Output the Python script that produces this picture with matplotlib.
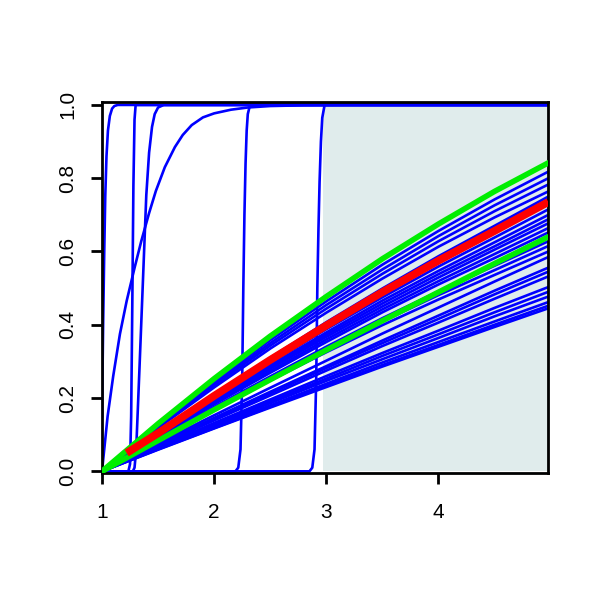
import numpy as np
import matplotlib
matplotlib.use('Agg')
import matplotlib.pyplot as plt

# x positions where the smooth (fan) curves were read
fan_x = [1.0, 1.5, 2.0, 2.5, 3.0, 3.5, 4.0, 4.5, 4.98]

# blue fan curves, values read at fan_x
blue_fan = [
    [0, 0.126, 0.245, 0.358, 0.464, 0.564, 0.656, 0.742, 0.818],
    [0, 0.123, 0.240, 0.350, 0.454, 0.551, 0.642, 0.726, 0.800],
    [0, 0.121, 0.235, 0.343, 0.444, 0.539, 0.628, 0.710, 0.783],
    [0, 0.118, 0.229, 0.335, 0.433, 0.526, 0.613, 0.693, 0.764],
    [0, 0.107, 0.210, 0.310, 0.407, 0.499, 0.587, 0.670, 0.750],
    [0, 0.105, 0.208, 0.306, 0.402, 0.493, 0.580, 0.663, 0.742],
    [0, 0.102, 0.200, 0.295, 0.388, 0.475, 0.559, 0.638, 0.715],
    [0, 0.099, 0.196, 0.289, 0.379, 0.466, 0.547, 0.625, 0.700],
    [0, 0.098, 0.193, 0.284, 0.373, 0.458, 0.538, 0.614, 0.688],
    [0, 0.096, 0.190, 0.280, 0.367, 0.450, 0.529, 0.605, 0.677],
    [0, 0.094, 0.186, 0.274, 0.360, 0.442, 0.519, 0.593, 0.664],
    [0, 0.093, 0.183, 0.269, 0.353, 0.434, 0.510, 0.582, 0.652],
    [0, 0.089, 0.176, 0.259, 0.340, 0.418, 0.491, 0.561, 0.628],
    [0, 0.087, 0.172, 0.254, 0.333, 0.409, 0.481, 0.549, 0.615],
    [0, 0.085, 0.168, 0.248, 0.325, 0.399, 0.469, 0.536, 0.600],
    [0, 0.077, 0.153, 0.228, 0.302, 0.376, 0.447, 0.518, 0.585],
    [0, 0.073, 0.146, 0.217, 0.287, 0.357, 0.425, 0.493, 0.556],
    [0, 0.072, 0.143, 0.213, 0.282, 0.350, 0.416, 0.483, 0.545],
    [0, 0.070, 0.139, 0.207, 0.275, 0.342, 0.406, 0.471, 0.532],
    [0, 0.066, 0.132, 0.196, 0.260, 0.323, 0.384, 0.446, 0.503],
    [0, 0.065, 0.128, 0.191, 0.253, 0.315, 0.374, 0.434, 0.490],
    [0, 0.063, 0.125, 0.186, 0.247, 0.306, 0.364, 0.423, 0.477],
    [0, 0.061, 0.121, 0.180, 0.239, 0.297, 0.353, 0.409, 0.462],
    [0, 0.060, 0.118, 0.176, 0.234, 0.290, 0.345, 0.400, 0.452],
    [0, 0.059, 0.117, 0.174, 0.230, 0.286, 0.340, 0.394, 0.445],
]

green_upper = [0, 0.130, 0.253, 0.369, 0.477, 0.580, 0.675, 0.764, 0.842]
green_lower = [0, 0.084, 0.168, 0.250, 0.331, 0.411, 0.489, 0.567, 0.640]

red_x = [1.22, 1.5, 2.0, 2.5, 3.0, 3.5, 4.0, 4.5, 4.98]
red_y = [0.05, 0.104, 0.206, 0.304, 0.398, 0.489, 0.575, 0.656, 0.735]

# steep blue curves (x, y pairs)
steep_curves = [
    ([1.0, 1.01, 1.02, 1.029, 1.04, 1.053, 1.07, 1.09, 1.11, 1.14, 4.98],
     [0.15, 0.40, 0.60, 0.75, 0.86, 0.93, 0.97, 0.99, 0.997, 1.0, 1.0]),
    ([1.0, 1.02, 1.05, 1.1, 1.16, 1.22, 1.29, 1.35, 1.42, 1.48, 1.56, 1.65,
      1.72, 1.8, 1.9, 2.0, 2.15, 2.3, 2.5, 2.8, 3.2, 4.98],
     [0, 0.06, 0.15, 0.26, 0.375, 0.465, 0.555, 0.628, 0.705, 0.765, 0.83, 0.885,
      0.918, 0.945, 0.966, 0.977, 0.987, 0.993, 0.997, 0.999, 1.0, 1.0]),
    ([1.0, 1.235, 1.25, 1.26, 1.27, 1.28, 1.29, 1.30, 4.98],
     [0, 0, 0.02, 0.15, 0.45, 0.78, 0.96, 1.0, 1.0]),
    ([1.0, 1.275, 1.29, 1.305, 1.334, 1.365, 1.395, 1.42, 1.446, 1.47, 1.50, 1.55, 4.98],
     [0, 0, 0.01, 0.06, 0.28, 0.52, 0.754, 0.87, 0.94, 0.975, 0.993, 1.0, 1.0]),
    ([1.0, 2.19, 2.215, 2.235, 2.25, 2.26, 2.27, 2.28, 2.29, 2.30, 2.32, 4.98],
     [0, 0, 0.01, 0.06, 0.25, 0.50, 0.70, 0.84, 0.93, 0.975, 1.0, 1.0]),
    ([1.0, 2.85, 2.875, 2.895, 2.91, 2.92, 2.93, 2.94, 2.952, 2.964, 2.985, 4.98],
     [0, 0, 0.01, 0.06, 0.25, 0.50, 0.66, 0.79, 0.90, 0.965, 1.0, 1.0]),
]

shade_from = 2.97
x_ticks = [1, 2, 3, 4]
y_ticks = [0.0, 0.2, 0.4, 0.6, 0.8, 1.0]

plt.rcParams['font.family'] = ['Liberation Sans', 'DejaVu Sans']

fig = plt.figure(figsize=(6, 6), dpi=100)
ax = fig.add_axes([0.17, 0.212, 0.743, 0.618])

ax.fill_between([shade_from, 4.98], 0, 1, color='#e0ecec', lw=0, zorder=1)

for xs, ys in steep_curves:
    ax.plot(xs, ys, color='#0000ff', lw=1.9, zorder=2)
for ys in blue_fan:
    ax.plot(fan_x, ys, color='#0000ff', lw=1.9, zorder=2)

ax.plot(fan_x, green_upper, color='#00ee00', lw=4.0, zorder=3)
ax.plot(fan_x, green_lower, color='#00ee00', lw=4.0, zorder=3)
ax.plot(red_x, red_y, color='#ff0000', lw=5.6, zorder=4, solid_capstyle='butt')

ax.set_xlim(1, 4.975)
ax.set_ylim(-0.004, 1.008)
ax.set_xticks(x_ticks)
ax.set_xticklabels([str(v) for v in x_ticks], fontsize=15)
ax.set_yticks(y_ticks)
ax.set_yticklabels([f'{v:.1f}' for v in y_ticks], rotation=90, va='center', fontsize=15)
ax.tick_params(axis='both', length=8, width=2)
ax.tick_params(axis='x', pad=14)
ax.tick_params(axis='y', pad=10)
for s in ax.spines.values():
    s.set_linewidth(2)

fig.savefig('out.png', dpi=100)
